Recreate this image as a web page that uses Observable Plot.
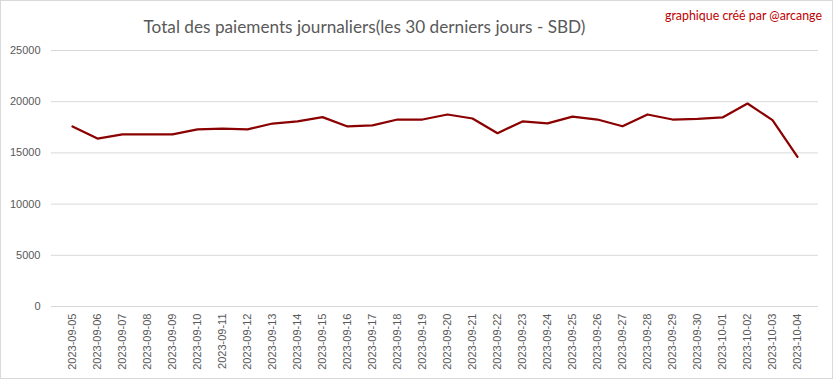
<!DOCTYPE html>
<html>
<head>
<meta charset="utf-8">
<script src="https://cdn.jsdelivr.net/npm/d3@7"></script>
<script src="https://cdn.jsdelivr.net/npm/@observablehq/plot@0.6"></script>
<style>
  html, body { margin: 0; padding: 0; background: #fff; }
  #chart { position: relative; width: 831px; height: 377px; border: 1px solid #d9d9d9; overflow: hidden; background: #fff; }
  #title { position: absolute; left: 0; width: 727px; top: 15px; text-align: center; font-family: Lato, "Liberation Sans", sans-serif; font-size: 17.2px; color: #595959; white-space: nowrap; }
  #credit { position: absolute; right: 10px; top: 7px; font-family: Lato, "Liberation Sans", sans-serif; font-size: 12.4px; color: #c00000; white-space: nowrap; }
  #plot { position: absolute; left: 0; top: 0; }
</style>
</head>
<body>
<div id="chart">
  <div id="plot"></div>
  <div id="title">Total des paiements journaliers(les 30 derniers jours - SBD)</div>
  <div id="credit">graphique créé par @arcange</div>
</div>
<script>
const dates = [
  "2023-09-05","2023-09-06","2023-09-07","2023-09-08","2023-09-09","2023-09-10",
  "2023-09-11","2023-09-12","2023-09-13","2023-09-14","2023-09-15","2023-09-16",
  "2023-09-17","2023-09-18","2023-09-19","2023-09-20","2023-09-21","2023-09-22",
  "2023-09-23","2023-09-24","2023-09-25","2023-09-26","2023-09-27","2023-09-28",
  "2023-09-29","2023-09-30","2023-10-01","2023-10-02","2023-10-03","2023-10-04"
];
const payouts = [
  17580, 16400, 16800, 16800, 16800, 17290,
  17380, 17300, 17870, 18070, 18490, 17580,
  17680, 18260, 18260, 18750, 18360, 16920,
  18070, 17880, 18550, 18260, 17600, 18750,
  18260, 18330, 18460, 19820, 18200, 14620
];
const yTicks = [0, 5000, 10000, 15000, 20000, 25000];

const data = dates.map((d, i) => ({date: d, value: payouts[i]}));

const chart = Plot.plot({
  width: 831,
  height: 377,
  marginLeft: 50,
  marginRight: 14,
  marginTop: 49,
  marginBottom: 72,
  style: { fontFamily: '"Liberation Sans", Arial, sans-serif', fontSize: "11px", color: "#595959", background: "transparent" },
  x: { type: "point", domain: dates, padding: 0.5, label: null },
  y: { domain: [0, 25000], label: null },
  marks: [
    Plot.ruleY(yTicks, { stroke: "#d9d9d9", strokeWidth: 1 }),
    Plot.axisY({ ticks: yTicks, tickSize: 0, tickPadding: 11, label: null, fill: "#595959", tickFormat: d => String(d) }),
    Plot.axisX({ tickSize: 0, tickPadding: 7, tickRotate: -90, label: null, fill: "#595959" }),
    Plot.line(data, { x: "date", y: "value", stroke: "#8b0000", strokeWidth: 2.25, strokeLinejoin: "round", strokeLinecap: "round" })
  ]
});
document.getElementById("plot").appendChild(chart);
</script>
</body>
</html>
